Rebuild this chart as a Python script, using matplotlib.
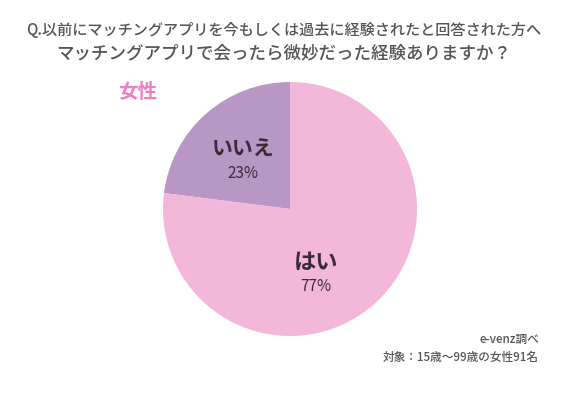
import matplotlib.pyplot as plt
import numpy as np

plt.rcParams['font.family'] = ['Noto Sans CJK JP', 'DejaVu Sans']

labels = ["いいえ", "はい"]
values = [23, 77]
colors = ["#B897C4", "#F3B7DA"]

fig = plt.figure(figsize=(5.67, 3.94), dpi=100)
fig.patch.set_facecolor("white")

ax = fig.add_axes([163 / 567, 58 / 394, 254 / 567, 254 / 394])
wedges, _ = ax.pie(values, colors=colors, startangle=90, counterclock=True,
                   radius=1.0, wedgeprops=dict(linewidth=0))
ax.set_xlim(-1, 1)
ax.set_ylim(-1, 1)
ax.set_aspect("equal")

# label positions (angle in degrees, radius) roughly where the reference puts them
label_pos = [(134, 0.53), (292, 0.55)]
name_size = [15, 16]
for (ang, r), lab, val, fs in zip(label_pos, labels, values, name_size):
    x = r * np.cos(np.radians(ang))
    y = r * np.sin(np.radians(ang))
    ax.text(x, y + 0.09, lab, ha="center", va="center", fontsize=fs,
            fontweight="bold", color="#3a2a3a")
    ax.text(x, y - 0.1, f"{val}%", ha="center", va="center", fontsize=11,
            color="#3a2a3a")

fig.text(0.5, 1 - 31 / 394, "Q.以前にマッチングアプリを今もしくは過去に経験されたと回答された方へ",
         ha="center", va="center", fontsize=10.9, fontweight="medium", color="#555555")
fig.text(0.5, 1 - 53 / 394, "マッチングアプリで会ったら微妙だった経験ありますか？",
         ha="center", va="center", fontsize=12.6, fontweight="medium", color="#555555")
fig.text(138 / 567, 1 - 92 / 394, "女性", ha="center", va="center",
         fontsize=14, fontweight="bold", color="#F07DC2")

fig.text(539 / 567, 1 - 339 / 394, "e-venz調べ", ha="right", va="center",
         fontsize=8.4, fontweight="medium", color="#555555")
fig.text(539 / 567, 1 - 357 / 394, "対象：15歳〜99歳の女性91名", ha="right", va="center",
         fontsize=8.4, fontweight="medium", color="#555555")

fig.savefig("out.png", dpi=100)
